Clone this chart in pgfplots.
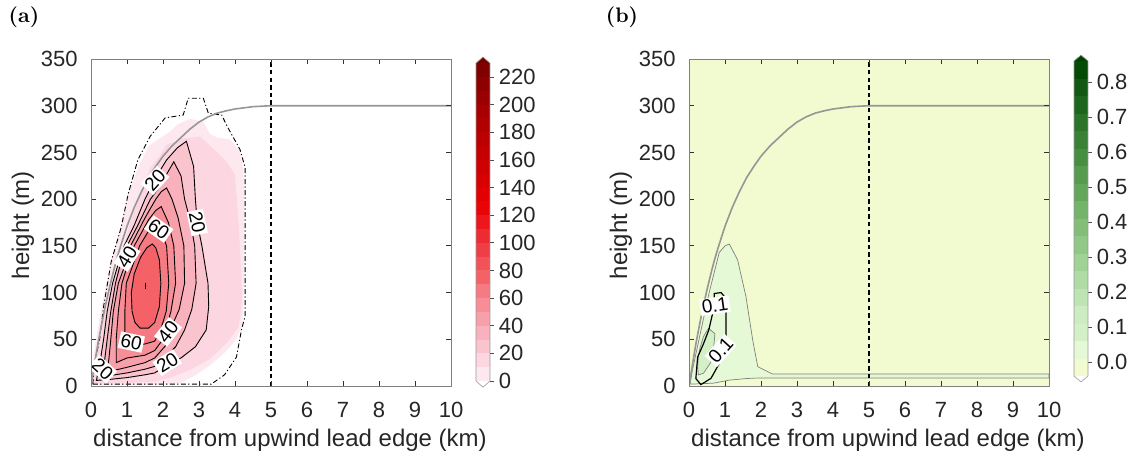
\documentclass[border=0pt]{standalone}
\usepackage{fontspec}
\setsansfont{Liberation Sans}
\usepackage{pgfplots}
\pgfplotsset{compat=1.18}
% red colormap bands (0..230, step 10)
\definecolor{r0}{RGB}{254,232,240}
\definecolor{r1}{RGB}{252,214,224}
\definecolor{r2}{RGB}{250,196,207}
\definecolor{r3}{RGB}{249,178,189}
\definecolor{r4}{RGB}{248,160,170}
\definecolor{r5}{RGB}{247,141,150}
\definecolor{r6}{RGB}{246,122,130}
\definecolor{r7}{RGB}{244,98,104}
\definecolor{r8}{RGB}{242,82,90}
\definecolor{r9}{RGB}{240,62,70}
\definecolor{r10}{RGB}{238,42,50}
\definecolor{r11}{RGB}{236,22,28}
\definecolor{r12}{RGB}{234,4,8}
\definecolor{r13}{RGB}{226,0,0}
\definecolor{r14}{RGB}{216,0,0}
\definecolor{r15}{RGB}{206,0,0}
\definecolor{r16}{RGB}{196,0,0}
\definecolor{r17}{RGB}{186,0,0}
\definecolor{r18}{RGB}{176,0,0}
\definecolor{r19}{RGB}{166,0,0}
\definecolor{r20}{RGB}{154,0,0}
\definecolor{r21}{RGB}{142,0,0}
\definecolor{r22}{RGB}{128,0,0}
\definecolor{rtop}{RGB}{118,0,0}
% green colormap bands (-0.04..0.86, step 0.05)
\definecolor{g0}{RGB}{242,250,207}
\definecolor{g1}{RGB}{230,249,215}
\definecolor{g2}{RGB}{212,240,198}
\definecolor{g3}{RGB}{205,236,194}
\definecolor{g4}{RGB}{190,228,180}
\definecolor{g5}{RGB}{175,219,165}
\definecolor{g6}{RGB}{160,210,150}
\definecolor{g7}{RGB}{145,200,135}
\definecolor{g8}{RGB}{130,190,120}
\definecolor{g9}{RGB}{115,179,106}
\definecolor{g10}{RGB}{100,167,92}
\definecolor{g11}{RGB}{86,155,79}
\definecolor{g12}{RGB}{72,142,66}
\definecolor{g13}{RGB}{58,129,54}
\definecolor{g14}{RGB}{44,116,42}
\definecolor{g15}{RGB}{30,102,30}
\definecolor{g16}{RGB}{17,88,18}
\definecolor{g17}{RGB}{5,75,5}
\definecolor{gtop}{RGB}{0,66,0}
\definecolor{blcurve}{RGB}{150,150,150}
\newcommand{\band}[3]{\addplot[draw=none, fill=#3] coordinates {(0,#1) (1,#1) (1,#2) (0,#2)} -- cycle;}
\newcommand{\clab}[4]{\node[fill=white, inner sep=0.8pt, rotate=#3, font=\sffamily\fontsize{9.5}{9.5}\selectfont, text=black] at (axis cs:#1,#2) {#4};}
\pgfplotsset{
  mainax/.style={
    scale only axis, width=180pt, height=163.5pt,
    xmin=0, xmax=10, ymin=0, ymax=350,
    xtick={0,1,2,3,4,5,6,7,8,9,10}, ytick={0,50,100,150,200,250,300,350},
    xtick pos=both, ytick pos=both,
    tick align=inside, major tick length=2.5pt,
    axis on top,
    axis line style={draw=black!50, line width=0.4pt},
    every tick/.style={draw=black!80, line width=0.4pt},
    font=\sffamily\fontsize{11}{13}\selectfont,
    /pgf/number format/assume math mode=true,
    xticklabel style={anchor=center, yshift=-12pt, text=black!85},
    yticklabel style={anchor=east, inner sep=0pt, xshift=-6.5pt, text=black!85},
  },
  cbax/.style={
    scale only axis, width=7pt,
    xmin=0, xmax=1, xtick=\empty,
    axis line style={draw=none},
    ytick pos=right, yticklabel pos=right,
    tick align=outside, major tick length=1.8pt,
    every tick/.style={draw=black!70, line width=0.4pt},
    font=\sffamily\fontsize{11}{13}\selectfont,
    /pgf/number format/assume math mode=true,
    yticklabel style={anchor=west, inner sep=0pt, xshift=2.4pt, text=black!85},
    clip=false,
  },
}
\begin{document}
\begin{tikzpicture}
\path[use as bounding box] (0,0) rectangle (572pt,228.5pt);
% ---------------- panel (a)
\begin{axis}[mainax, at={(45.5pt,35.5pt)}, anchor=south west]
\addplot[fill=r0, draw=none] coordinates {(0.02,1) (1.0,1) (2.0,1.5) (2.47,3) (2.84,10) (3.3,22) (3.7,35) (4.0,48) (4.18,62) (4.24,85) (4.25,130) (4.25,200) (4.24,230) (4.14,252) (3.86,264) (3.5,266) (3.3,270) (3.12,283) (2.75,286) (2.4,280) (2.19,272) (1.9,265) (1.6,257) (1.3,233) (1.03,205) (0.85,175) (0.6,138) (0.4,105) (0.25,75) (0.12,45) (0.03,18)} -- cycle;
\addplot[fill=r1, draw=none] coordinates {(0.04,3) (1.0,3) (1.8,5) (2.29,10) (2.84,19) (3.3,29) (3.77,46) (4.1,63) (4.2,92) (4.16,130) (4.1,175) (4.0,226) (3.77,240) (3.4,254) (3.03,267) (2.56,265) (2.1,258) (1.92,247) (1.64,233) (1.4,208) (1.12,178) (0.85,143) (0.55,103) (0.32,66) (0.16,35) (0.06,12)} -- cycle;
\addplot[fill=r2, draw=black, line width=0.45pt] coordinates {(0.15,6) (0.5,7) (1.0,9) (1.5,12) (1.77,14) (2.09,22) (2.5,30) (2.9,42) (3.2,60) (3.27,85) (3.25,110) (3.08,150) (2.95,175) (2.9,200) (2.85,235) (2.65,262) (2.4,255) (2.1,242) (1.78,222) (1.5,200) (1.2,172) (0.92,150) (0.75,130) (0.6,110) (0.45,80) (0.35,50) (0.25,25)} -- cycle;
\addplot[fill=r3, draw=black, line width=0.45pt] coordinates {(0.3,9) (0.5,11) (1.0,14) (1.5,18) (1.77,21) (2.09,32) (2.35,42) (2.6,60) (2.8,82) (2.92,110) (2.88,150) (2.75,178) (2.6,200) (2.5,225) (2.3,240) (2.15,230) (1.9,213) (1.65,200) (1.3,172) (1.0,150) (0.8,128) (0.68,110) (0.55,80) (0.45,50) (0.38,28)} -- cycle;
\addplot[fill=r4, draw=black, line width=0.45pt] coordinates {(0.45,15) (1.0,20) (1.5,25) (1.77,30) (2.09,44) (2.2,60) (2.45,82) (2.6,110) (2.58,150) (2.42,180) (2.25,200) (2.1,212) (1.95,208) (1.8,200) (1.5,180) (1.1,150) (0.95,130) (0.76,110) (0.62,80) (0.55,50) (0.5,30)} -- cycle;
\addplot[fill=r5, draw=black, line width=0.45pt] coordinates {(0.7,25) (1.0,30) (1.5,33) (1.77,38) (2.0,50) (2.1,62) (2.22,80) (2.35,110) (2.3,150) (2.15,175) (1.95,192) (1.8,188) (1.6,178) (1.2,150) (0.98,125) (0.86,110) (0.76,80) (0.7,50)} -- cycle;
\addplot[fill=r6, draw=black, line width=0.45pt] coordinates {(0.98,44) (1.3,44) (1.5,45) (1.77,48) (1.95,62) (2.09,80) (2.16,110) (2.1,150) (1.95,165) (1.8,172) (1.6,166) (1.35,150) (1.15,128) (0.98,110) (0.94,80) (0.94,55)} -- cycle;
\addplot[fill=r7, draw=black, line width=0.45pt] coordinates {(1.36,62) (1.6,62) (1.77,68) (1.9,85) (1.94,110) (1.9,135) (1.8,148) (1.7,152) (1.55,148) (1.38,138) (1.2,120) (1.12,100) (1.14,80) (1.22,68)} -- cycle;
\addplot[draw=black, line width=0.6pt] coordinates {(1.52,104) (1.52,110)};
% dash-dot contour
\addplot[draw=black, line width=0.45pt, dash pattern=on 2.5pt off 1.2pt on 0.6pt off 1.2pt] coordinates {(0.05,2) (3.34,2) (3.71,12) (4.04,31) (4.18,60) (4.28,75) (4.28,234) (4.14,253) (3.81,276) (3.63,290) (3.26,292) (3.12,308) (2.7,308) (2.56,290) (2.06,287) (1.64,267) (1.3,242) (1.03,205) (0.84,170) (0.56,133) (0.35,85) (0.24,50) (0.1,25) (0.05,2)};
% boundary-layer height curve
\addplot[draw=blcurve, line width=0.8pt] coordinates {(0,0) (0.1,24) (0.2,47) (0.3,67) (0.4,86) (0.5,103) (0.6,119) (0.7,134) (0.8,147) (0.9,159) (1.0,171) (1.2,191) (1.4,208) (1.6,223) (1.8,235) (2.0,246) (2.25,257) (2.5,266) (2.75,275) (3.0,282.5) (3.25,288) (3.5,292) (3.75,294.5) (4.0,296.5) (4.5,299) (5.0,300) (6,300) (7,300) (10,300)};
\addplot[draw=black, line width=0.6pt, dash pattern=on 2.2pt off 1.6pt] coordinates {(0,0) (0,350)};
\addplot[draw=black, line width=0.6pt, dash pattern=on 2.2pt off 1.6pt] coordinates {(5,0) (5,350)};
\clab{0.32}{18}{-42}{20}
\clab{1.78}{220}{48}{20}
\clab{2.95}{175}{-78}{20}
\clab{2.12}{25}{32}{20}
\clab{1.0}{138}{58}{40}
\clab{2.14}{58}{52}{40}
\clab{1.12}{47}{-12}{60}
\clab{1.88}{168}{-35}{60}
\end{axis}
% ---------------- colorbar (a)
\begin{axis}[cbax, at={(238pt,38pt)}, anchor=south west, height=158.9pt, ymin=0, ymax=230,
  ytick={0,20,40,60,80,100,120,140,160,180,200,220}]
\band{0}{10}{r0}\band{10}{20}{r1}\band{20}{30}{r2}\band{30}{40}{r3}
\band{40}{50}{r4}\band{50}{60}{r5}\band{60}{70}{r6}\band{70}{80}{r7}
\band{80}{90}{r8}\band{90}{100}{r9}\band{100}{110}{r10}\band{110}{120}{r11}
\band{120}{130}{r12}\band{130}{140}{r13}\band{140}{150}{r14}\band{150}{160}{r15}
\band{160}{170}{r16}\band{170}{180}{r17}\band{180}{190}{r18}\band{190}{200}{r19}
\band{200}{210}{r20}\band{210}{220}{r21}\band{220}{230}{r22}
\addplot[fill=rtop, draw=none] coordinates {(0,230) (0.5,234.5) (1,230)} -- cycle;
\addplot[fill=white, draw=none] coordinates {(0,0) (0.5,-4.5) (1,0)} -- cycle;
\addplot[draw=black!40, line width=0.3pt] coordinates {(0,0) (0.5,-4.5) (1,0) (1,230) (0.5,234.5) (0,230)} -- cycle;
\end{axis}
% ---------------- panel (b)
\begin{axis}[mainax, at={(344.5pt,35.5pt)}, anchor=south west]
\addplot[fill=g0, draw=none] coordinates {(0,0) (10,0) (10,350) (0,350)} -- cycle;
\addplot[fill=g1, draw=black!50, line width=0.35pt] coordinates {(0.03,2) (0.67,3) (1.14,6.4) (1.6,8) (1.88,8.5) (10,8.5) (10,12.8) (2.32,12.8) (1.91,20.7) (1.77,49) (1.58,96) (1.35,135) (1.12,152) (1.0,150) (0.84,143) (0.56,100) (0.29,52) (0.1,18)} -- cycle;
\addplot[fill=g2, draw=black!50, line width=0.35pt] coordinates {(0.26,11.8) (0.4,13.6) (0.6,25) (0.67,35) (0.72,56) (0.54,61.7) (0.4,52.8) (0.3,40) (0.26,31) (0.24,20)} -- cycle;
\addplot[draw=black, line width=0.6pt] coordinates {(0.33,1.5) (0.61,8.2) (0.84,24) (1.0,45) (1.03,56) (1.03,78) (1.0,95) (0.89,100) (0.7,99) (0.7,85) (0.55,60) (0.4,45) (0.24,31) (0.19,8)} -- cycle;
\addplot[draw=blcurve, line width=0.8pt] coordinates {(0,0) (0.1,24) (0.2,47) (0.3,67) (0.4,86) (0.5,103) (0.6,119) (0.7,134) (0.8,147) (0.9,159) (1.0,171) (1.2,191) (1.4,208) (1.6,223) (1.8,235) (2.0,246) (2.25,257) (2.5,266) (2.75,275) (3.0,282.5) (3.25,288) (3.5,292) (3.75,294.5) (4.0,296.5) (4.5,299) (5.0,300) (6,300) (7,300) (10,300)};
\addplot[draw=black, line width=0.6pt, dash pattern=on 2.2pt off 1.6pt] coordinates {(0,0) (0,350)};
\addplot[draw=black, line width=0.6pt, dash pattern=on 2.2pt off 1.6pt] coordinates {(5,0) (5,350)};
\clab{0.72}{86}{8}{0.1}
\clab{0.88}{38}{48}{0.1}
\end{axis}
% ---------------- colorbar (b)
\begin{axis}[cbax, at={(537pt,40.5pt)}, anchor=south west, height=157.5pt, ymin=-0.04, ymax=0.86,
  ytick={0,0.1,0.2,0.3,0.4,0.5,0.6,0.7,0.8},
  yticklabel style={/pgf/number format/.cd, fixed, fixed zerofill, precision=1}]
\band{-0.04}{0.01}{g0}\band{0.01}{0.06}{g1}\band{0.06}{0.11}{g2}\band{0.11}{0.16}{g3}
\band{0.16}{0.21}{g4}\band{0.21}{0.26}{g5}\band{0.26}{0.31}{g6}\band{0.31}{0.36}{g7}
\band{0.36}{0.41}{g8}\band{0.41}{0.46}{g9}\band{0.46}{0.51}{g10}\band{0.51}{0.56}{g11}
\band{0.56}{0.61}{g12}\band{0.61}{0.66}{g13}\band{0.66}{0.71}{g14}\band{0.71}{0.76}{g15}
\band{0.76}{0.81}{g16}\band{0.81}{0.86}{g17}
\addplot[fill=gtop, draw=none] coordinates {(0,0.86) (0.5,0.877) (1,0.86)} -- cycle;
\addplot[fill=white, draw=none] coordinates {(0,-0.04) (0.5,-0.057) (1,-0.04)} -- cycle;
\addplot[draw=black!40, line width=0.3pt] coordinates {(0,-0.04) (0.5,-0.057) (1,-0.04) (1,0.86) (0.5,0.877) (0,0.86)} -- cycle;
\end{axis}
% ---------------- labels
\node[font=\sffamily\fontsize{12}{14}\selectfont, text=black!85] at (145pt,8.5pt) {distance from upwind lead edge (km)};
\node[font=\sffamily\fontsize{12}{14}\selectfont, text=black!85] at (444pt,8.5pt) {distance from upwind lead edge (km)};
\node[font=\sffamily\fontsize{12}{14}\selectfont, text=black!85, rotate=90] at (11.5pt,116pt) {height (m)};
\node[font=\sffamily\fontsize{12}{14}\selectfont, text=black!85, rotate=90] at (310.5pt,116pt) {height (m)};
\node[font=\bfseries\fontsize{10.5}{12}\selectfont] at (12pt,220pt) {(a)};
\node[font=\bfseries\fontsize{10.5}{12}\selectfont] at (311pt,220pt) {(b)};
\end{tikzpicture}
\end{document}
